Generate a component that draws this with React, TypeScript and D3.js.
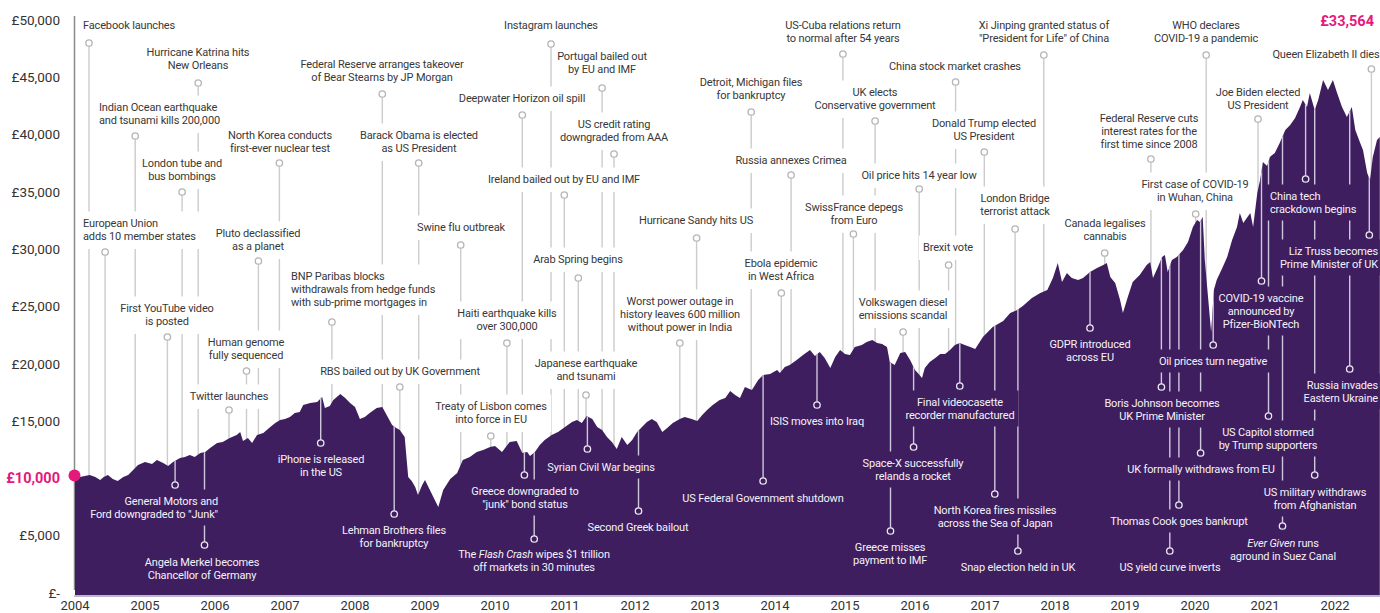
import React, { useEffect, useRef } from "react";
import * as d3 from "d3";

const W = 1380;
const H = 613;

const years = [2004, 2005, 2006, 2007, 2008, 2009, 2010, 2011, 2012, 2013, 2014, 2015, 2016, 2017, 2018, 2019, 2020, 2021, 2022];
const yTicks = [0, 5000, 10000, 15000, 20000, 25000, 30000, 35000, 40000, 45000, 50000];
const startValue = 10000;
const endLabel = "£33,564";

// value of £10,000 invested (decimal year, £)
const dates = [
  2004.0, 2004.07, 2004.14, 2004.21, 2004.29, 2004.36, 2004.41, 2004.47, 2004.54, 2004.61, 2004.69, 2004.76, 2004.83, 2004.9,
  2005.0, 2005.1, 2005.17, 2005.26, 2005.33, 2005.4, 2005.5, 2005.57, 2005.64, 2005.71, 2005.79, 2005.86, 2005.93,
  2006.03, 2006.11, 2006.21, 2006.31, 2006.36, 2006.4, 2006.47, 2006.53, 2006.6, 2006.69, 2006.79, 2006.86, 2006.93,
  2007.0, 2007.07, 2007.14, 2007.21, 2007.26, 2007.36, 2007.46, 2007.53, 2007.57, 2007.64, 2007.69, 2007.79, 2007.86, 2007.93,
  2008.0, 2008.07, 2008.14, 2008.21, 2008.31, 2008.39, 2008.46, 2008.53, 2008.59, 2008.64, 2008.71, 2008.76, 2008.81, 2008.86, 2008.9, 2008.96,
  2009.0, 2009.07, 2009.14, 2009.19, 2009.26, 2009.36, 2009.46, 2009.54, 2009.64, 2009.74, 2009.83, 2009.93,
  2010.0, 2010.1, 2010.21, 2010.31, 2010.39, 2010.46, 2010.5, 2010.57, 2010.64, 2010.71, 2010.81, 2010.9,
  2011.0, 2011.1, 2011.17, 2011.24, 2011.31, 2011.39, 2011.46, 2011.53, 2011.6, 2011.67, 2011.74, 2011.81, 2011.89, 2011.96,
  2012.03, 2012.1, 2012.17, 2012.24, 2012.31, 2012.39, 2012.46, 2012.54, 2012.64, 2012.71, 2012.81, 2012.89, 2012.96,
  2013.03, 2013.11, 2013.21, 2013.29, 2013.36, 2013.43, 2013.5, 2013.57, 2013.67, 2013.76, 2013.83, 2013.93,
  2014.03, 2014.07, 2014.14, 2014.21, 2014.31, 2014.4, 2014.5, 2014.57, 2014.64, 2014.71, 2014.79, 2014.86, 2014.93,
  2015.0, 2015.07, 2015.14, 2015.24, 2015.31, 2015.39, 2015.46, 2015.53, 2015.6, 2015.64, 2015.71, 2015.79, 2015.86, 2015.93,
  2016.0, 2016.04, 2016.1, 2016.14, 2016.21, 2016.29, 2016.36, 2016.43, 2016.5, 2016.57, 2016.64, 2016.71, 2016.79, 2016.86, 2016.97,
  2017.11, 2017.26, 2017.36, 2017.46, 2017.54, 2017.67, 2017.79, 2017.89, 2017.97,
  2018.04, 2018.1, 2018.17, 2018.24, 2018.33, 2018.4, 2018.5, 2018.6, 2018.69, 2018.74, 2018.79, 2018.86, 2018.93, 2018.97,
  2019.04, 2019.11, 2019.21, 2019.31, 2019.36, 2019.4, 2019.47, 2019.53, 2019.57, 2019.61, 2019.67, 2019.74, 2019.83, 2019.9, 2019.97,
  2020.03, 2020.07, 2020.11, 2020.14, 2020.19, 2020.23, 2020.27, 2020.31, 2020.39, 2020.46, 2020.53, 2020.6, 2020.64, 2020.69, 2020.74, 2020.79, 2020.83, 2020.89, 2020.93, 2020.97,
  2021.03, 2021.07, 2021.14, 2021.21, 2021.29, 2021.36, 2021.43, 2021.5, 2021.54, 2021.6, 2021.64, 2021.71, 2021.76, 2021.83, 2021.9, 2021.97,
  2022.03, 2022.1, 2022.17, 2022.24, 2022.29, 2022.36, 2022.4, 2022.46, 2022.5, 2022.54, 2022.6, 2022.64,
];
const values = [
  10000, 10120, 10210, 10300, 10120, 9860, 10120, 10300, 9950, 9770, 10120, 10300, 10730, 11170,
  11430, 11260, 11610, 11340, 11080, 11430, 11780, 11870, 12040, 11870, 12220, 12300, 12650,
  13090, 13180, 13530, 13790, 14050, 13260, 13530, 13090, 13790, 13960, 14490, 14830, 15100,
  15180, 15360, 15710, 15790, 16400, 16580, 16670, 17100, 16140, 16320, 16840, 17370, 17020, 16580,
  16230, 15180, 15360, 15710, 16140, 16230, 15450, 14660, 14400, 14220, 13610, 10120, 9770, 9250, 8550, 9420,
  9860, 8990, 8120, 7500, 8990, 9950, 10470, 11610, 11870, 12300, 12480, 12740,
  12830, 12300, 13180, 13260, 12220, 12300, 11950, 12300, 12910, 13350, 13790, 14050,
  14490, 14920, 15100, 14830, 15450, 15180, 14490, 14220, 13610, 13180, 12570, 13610, 12910, 13350,
  14050, 14490, 14920, 15180, 14920, 14050, 14400, 14830, 15180, 15360, 15180, 15010, 15530,
  15970, 16400, 16840, 17020, 17630, 17280, 17020, 17980, 17710, 18590, 19020, 19110,
  19460, 19200, 19720, 19900, 20330, 20770, 21200, 20680, 21030, 20510, 19630, 20590, 21200,
  20860, 20770, 21470, 21640, 21900, 22080, 21820, 21730, 21470, 20160, 19900, 20940, 21030, 20330,
  19460, 19200, 18760, 19630, 20160, 20510, 20860, 20860, 21200, 21640, 21820, 21640, 21470, 21290, 22340,
  23210, 23730, 24430, 24690, 25040, 25740, 26180, 26440, 27490,
  28800, 27140, 27920, 27490, 27310, 27490, 28010, 28360, 28620, 28800, 27570, 27050, 25570, 24430,
  25830, 27140, 27750, 28620, 28880, 27490, 28450, 29320, 29490, 28010, 29060, 29320, 29930, 30630, 31940,
  32550, 32370, 32810, 29060, 25570, 22780, 26440, 27310, 28360, 29320, 30800, 31940, 33160, 32290, 32720, 33160, 31940, 34900, 36040, 37610,
  37260, 38050, 38390, 39270, 40400, 40840, 41450, 42410, 43020, 42410, 43630, 42150, 43020, 44760, 43890, 44760,
  43630, 42410, 41540, 42410, 40400, 39270, 38660, 36650, 36040, 38050, 39530, 39790,
];

// events: date and label ("|" breaks a line, "_" toggles italics)
const events: [number, string][] = [
  [2004.2, "Facebook launches"],
  [2005.76, "Hurricane Katrina hits|New Orleans"],
  [2004.86, "Indian Ocean earthquake|and tsunami kills 200,000"],
  [2005.53, "London tube and|bus bombings"],
  [2004.43, "European Union|adds 10 member states"],
  [2005.32, "First YouTube video|is posted"],
  [2006.62, "Pluto declassified|as a planet"],
  [2006.92, "North Korea conducts|first-ever nuclear test"],
  [2006.45, "Human genome|fully sequenced"],
  [2006.2, "Twitter launches"],
  [2008.39, "Federal Reserve arranges takeover|of Bear Stearns by JP Morgan"],
  [2008.91, "Barack Obama is elected|as US President"],
  [2009.51, "Swine flu outbreak"],
  [2007.67, "BNP Paribas blocks|withdrawals from hedge funds|with sub-prime mortgages in"],
  [2008.64, "RBS bailed out by UK Government"],
  [2009.94, "Treaty of Lisbon comes|into force in EU"],
  [2010.8, "Instagram launches"],
  [2011.53, "Portugal bailed out|by EU and IMF"],
  [2010.39, "Deepwater Horizon oil spill"],
  [2011.7, "US credit rating|downgraded from AAA"],
  [2010.99, "Ireland bailed out by EU and IMF"],
  [2011.19, "Arab Spring begins"],
  [2010.17, "Haiti earthquake kills|over 300,000"],
  [2011.3, "Japanese earthquake|and tsunami"],
  [2012.88, "Hurricane Sandy hits US"],
  [2012.64, "Worst power outage in|history leaves 600 million|without power in India"],
  [2013.66, "Detroit, Michigan files|for bankruptcy"],
  [2014.23, "Russia annexes Crimea"],
  [2014.09, "Ebola epidemic|in West Africa"],
  [2014.97, "US-Cuba relations return|to normal after 54 years"],
  [2015.43, "UK elects|Conservative government"],
  [2015.12, "SwissFrance depegs|from Euro"],
  [2016.06, "Oil price hits 14 year low"],
  [2016.58, "China stock market crashes"],
  [2016.99, "Donald Trump elected|US President"],
  [2016.48, "Brexit vote"],
  [2015.83, "Volkswagen diesel|emissions scandal"],
  [2017.84, "Xi Jinping granted status of|\"President for Life\" of China"],
  [2017.43, "London Bridge|terrorist attack"],
  [2018.71, "Canada legalises|cannabis"],
  [2019.37, "Federal Reserve cuts|interest rates for the|first time since 2008"],
  [2020.16, "WHO declares|COVID-19 a pandemic"],
  [2020.9, "Joe Biden elected|US President"],
  [2020.01, "First case of COVID-19|in Wuhan, China"],
  [2022.52, "Queen Elizabeth II dies"],
  [2021.58, "China tech|crackdown begins"],
  [2022.49, "Liz Truss becomes|Prime Minister of UK"],
  [2005.43, "General Motors and|Ford downgraded to \"Junk\""],
  [2005.85, "Angela Merkel becomes|Chancellor of Germany"],
  [2007.51, "iPhone is released|in the US"],
  [2008.56, "Lehman Brothers files|for bankruptcy"],
  [2010.42, "Greece downgraded to|\"junk\" bond status"],
  [2010.56, "The _Flash Crash_ wipes $1 trillion|off markets in 30 minutes"],
  [2011.32, "Syrian Civil War begins"],
  [2012.05, "Second Greek bailout"],
  [2013.83, "US Federal Government shutdown"],
  [2014.6, "ISIS moves into Iraq"],
  [2015.98, "Space-X successfully|relands a rocket"],
  [2015.65, "Greece misses|payment to IMF"],
  [2016.64, "Final videocasette|recorder manufactured"],
  [2017.14, "North Korea fires missiles|across the Sea of Japan"],
  [2017.47, "Snap election held in UK"],
  [2018.5, "GDPR introduced|across EU"],
  [2020.26, "Oil prices turn negative"],
  [2019.52, "Boris Johnson becomes|UK Prime Minister"],
  [2020.08, "UK formally withdraws from EU"],
  [2019.77, "Thomas Cook goes bankrupt"],
  [2019.64, "US yield curve inverts"],
  [2020.95, "COVID-19 vaccine|announced by|Pfizer-BioNTech"],
  [2021.05, "US Capitol stormed|by Trump supporters"],
  [2021.71, "US military withdraws|from Afghanistan"],
  [2021.25, "_Ever Given_ runs|aground in Suez Canal"],
  [2022.21, "Russia invades|Eastern Ukraine"],
];

// label layout, same order: [marker y, label x, first line y, anchor, inside area]
const layout: [number, number, number, string, number][] = [
  [43, 83, 25, "start", 0], [83, 198, 52, "middle", 0], [136, 99, 107, "start", 0], [192, 182, 163, "middle", 0],
  [252, 83, 223, "start", 0], [337, 167, 308, "middle", 0], [261, 258, 233, "middle", 0], [163, 280, 135, "middle", 0],
  [371, 246, 342, "middle", 0], [410, 229, 396, "middle", 0], [94, 382, 64, "middle", 0], [163, 419, 135, "middle", 0],
  [245, 461, 227, "middle", 0], [322, 291, 276, "start", 0], [387, 400, 371, "middle", 0], [436, 491, 406, "middle", 0],
  [44, 551, 25, "middle", 0], [88, 602, 56, "middle", 0], [115, 522, 98, "middle", 0], [154, 614, 124, "middle", 0],
  [195, 564, 179, "middle", 0], [278, 578, 259, "middle", 0], [343, 507, 313, "middle", 0], [395, 586, 363, "middle", 0],
  [238, 696, 220, "middle", 0], [343, 680, 301, "middle", 0], [112, 751, 82, "middle", 0], [175, 791, 160, "middle", 0],
  [293, 781, 263, "middle", 0], [54, 843, 25, "middle", 0], [121, 875, 92, "middle", 0], [234, 854, 207, "middle", 0],
  [189, 919, 175, "middle", 0], [82, 955, 66, "middle", 0], [152, 984, 123, "middle", 0], [265, 948, 247, "middle", 0],
  [332, 903, 302, "middle", 0], [55, 1044, 25, "middle", 0], [229, 1015, 198, "middle", 0], [253, 1105, 223, "middle", 0],
  [159, 1149, 118, "middle", 0], [55, 1206, 25, "middle", 0], [119, 1258, 92, "middle", 0], [214, 1195, 184, "middle", 0],
  [69, 1326, 54, "middle", 0],
  [179, 1270, 196, "start", 1], [235, 1378, 251, "end", 1], [485, 218, 501, "end", 1], [545, 202, 562, "middle", 1],
  [443, 321, 459, "middle", 1], [514, 394, 530, "middle", 1], [475, 525, 491, "middle", 1], [539, 534, 554, "middle", 1],
  [449, 601, 467, "middle", 1], [511, 638, 527, "middle", 1], [481, 763, 498, "middle", 1], [405, 817, 421, "middle", 1],
  [447, 913, 463, "middle", 1], [531, 890, 547, "middle", 1], [386, 960, 402, "middle", 1], [494, 995, 510, "middle", 1],
  [551, 1018, 567, "middle", 1], [328, 1090, 344, "middle", 1], [345, 1213, 361, "middle", 1], [387, 1162, 403, "middle", 1],
  [453, 1201, 469, "middle", 1], [505, 1179, 521, "middle", 1], [551, 1170, 567, "middle", 1], [281, 1261, 298, "middle", 1],
  [416, 1268, 432, "middle", 1], [475, 1315, 492, "middle", 1], [526, 1283, 543, "middle", 1], [369, 1378, 385, "end", 1],
];

const PURPLE = "#3e1e5e";
const PINK = "#e5197b";
const FONT = "Roboto, 'Noto Sans', sans-serif";

export default function App() {
  const ref = useRef<SVGSVGElement>(null);

  useEffect(() => {
    const svg = d3.select(ref.current);
    svg.selectAll("*").remove();

    const x = d3.scaleLinear().domain([2004, 2022]).range([75, 1335]);
    const y = d3.scaleLinear().domain([0, 50000]).range([593, 20]);
    const series = dates.map((d, i) => ({ d, v: values[i] }));

    const area = d3.area<{ d: number; v: number }>()
      .x(p => x(p.d))
      .y0(595)
      .y1(p => y(p.v));

    svg.append("defs").append("clipPath").attr("id", "areaClip")
      .append("path").attr("d", area(series));

    // layers
    const gAboveLines = svg.append("g");
    const gAboveRects = svg.append("g");
    const gAxis = svg.append("g").attr("font-family", FONT);
    const gArea = svg.append("g");
    const gInside = svg.append("g").attr("clip-path", "url(#areaClip)");
    const gInLines = gInside.append("g");
    const gInRects = gInside.append("g");
    const gMarks = svg.append("g");
    const gText = svg.append("g")
      .attr("font-family", FONT).attr("font-size", 11)
      .attr("letter-spacing", "-0.15px");

    // y axis
    gAxis.append("line")
      .attr("x1", 74.5).attr("x2", 74.5).attr("y1", 16).attr("y2", 590)
      .attr("stroke", "#8a8a8a").attr("stroke-width", 1.5);
    gAxis.selectAll(".yl")
      .data(yTicks.filter(t => t !== startValue))
      .enter().append("text")
      .attr("x", 60).attr("y", t => y(t)).attr("dy", "0.35em")
      .attr("text-anchor", "end").attr("font-size", 13.5).attr("fill", "#333")
      .text(t => (t === 0 ? "£-" : "£" + d3.format(",")(t)));
    gAxis.selectAll(".xl")
      .data(years)
      .enter().append("text")
      .attr("x", d => x(d)).attr("y", 610)
      .attr("text-anchor", "middle").attr("font-size", 13).attr("fill", "#333")
      .text(d => d);

    gArea.append("path").attr("d", area(series)).attr("fill", PURPLE);
    gArea.append("line")
      .attr("x1", 74).attr("x2", W).attr("y1", 596).attr("y2", 596)
      .attr("stroke", "#a99dc0").attr("stroke-width", 1.5);

    events.forEach(([date, label], i) => {
      const [my, lx, ly, anchor, inside] = layout[i];
      const mx = x(date);
      const lines = label.split("|");

      if (inside) {
        gInLines.append("line")
          .attr("x1", mx).attr("x2", mx).attr("y1", my - 3).attr("y2", 0)
          .attr("stroke", "#cfc7dc").attr("stroke-width", 1.4);
      } else {
        gAboveLines.append("line")
          .attr("x1", mx).attr("x2", mx).attr("y1", my + 3).attr("y2", 595)
          .attr("stroke", "#cccccc").attr("stroke-width", 1.4);
      }

      gMarks.append("circle")
        .attr("cx", mx).attr("cy", my).attr("r", 3.2)
        .attr("fill", inside ? PURPLE : "#fff")
        .attr("stroke", inside ? "#eeeaf4" : "#b5b5b5")
        .attr("stroke-width", 1.3);

      const g = gText.append("g").attr("fill", inside ? "#f4f1f8" : "#383838");
      lines.forEach((ln, k) => {
        const t = g.append("text")
          .attr("x", lx).attr("y", ly + k * 13).attr("dy", "0.35em")
          .attr("text-anchor", anchor);
        ln.split("_").forEach((seg, s) => {
          if (!seg) return;
          t.append("tspan").attr("font-style", s % 2 ? "italic" : "normal").text(seg);
        });
      });

      const bb = (g.node() as SVGGElement).getBBox();
      const top = ly - 11.5;
      const bottom = ly + (lines.length - 1) * 13 + (inside ? 11.5 : 13);
      (inside ? gInRects : gAboveRects).append("rect")
        .attr("x", bb.x - 4).attr("width", bb.width + 8)
        .attr("y", top).attr("height", bottom - top)
        .attr("fill", inside ? PURPLE : "#fff");
    });

    // start / end values
    gMarks.append("circle").attr("cx", 74.5).attr("cy", y(startValue) - 3).attr("r", 6).attr("fill", PINK);
    gText.append("text")
      .attr("x", 60).attr("y", y(startValue)).attr("dy", "0.35em")
      .attr("text-anchor", "end").attr("font-size", 14.5).attr("font-weight", 700)
      .attr("letter-spacing", "0px").attr("fill", PINK)
      .text("£" + d3.format(",")(startValue));
    gText.append("text")
      .attr("x", 1374).attr("y", 21).attr("dy", "0.35em")
      .attr("text-anchor", "end").attr("font-size", 14.5).attr("font-weight", 700)
      .attr("letter-spacing", "0px").attr("fill", PINK)
      .text(endLabel);
  }, []);

  return (
    <div style={{ position: "absolute", left: 0, top: 0, background: "#fff" }}>
      <svg ref={ref} width={W} height={H} style={{ display: "block" }} />
    </div>
  );
}
